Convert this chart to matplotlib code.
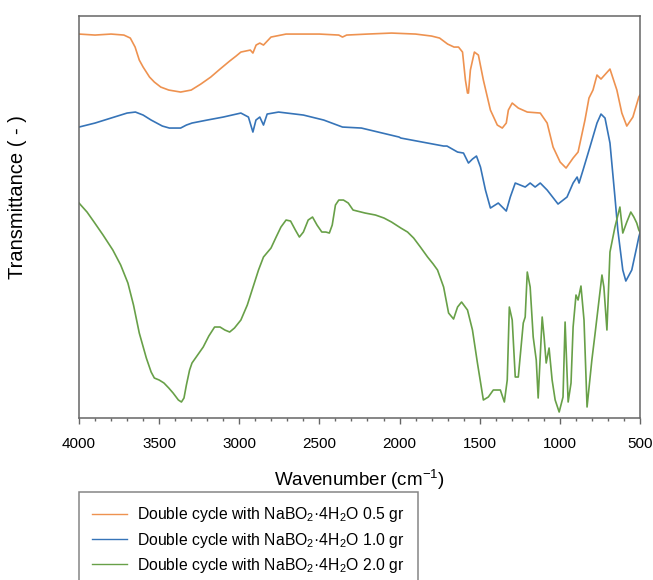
import matplotlib
matplotlib.use("Agg")
import matplotlib.pyplot as plt
from matplotlib.ticker import MultipleLocator

plt.rcParams["font.family"] = ["Liberation Sans", "DejaVu Sans"]
plt.rcParams["mathtext.fontset"] = "custom"
plt.rcParams["mathtext.rm"] = "Liberation Sans"
plt.rcParams["mathtext.it"] = "Liberation Sans:italic"
plt.rcParams["mathtext.bf"] = "Liberation Sans:bold"

# FTIR spectra (wavenumber in cm-1, transmittance a.u.)
wn_05 = [4000, 3900, 3800, 3720, 3680, 3650, 3624, 3600, 3560, 3530, 3490,
         3440, 3366, 3300, 3240, 3178, 3120, 3060, 3020, 2990, 2931, 2915,
         2895, 2872, 2849, 2802, 2708, 2500, 2379, 2356, 2330, 2200, 2050,
         1900, 1800, 1750, 1700, 1660, 1632, 1607, 1589, 1576, 1570, 1558,
         1533, 1508, 1477, 1433, 1390, 1359, 1334, 1321, 1297, 1259, 1203,
         1122, 1079, 1042, 998, 961, 917, 886, 843, 818, 793, 768, 743, 687,
         644, 613, 582, 544, 507, 500]
t_05 = [96.25, 96.0, 96.25, 96.0, 95.25, 93.0, 89.75, 88.0, 85.5, 84.25,
        83.0, 82.25, 81.75, 82.25, 83.75, 85.5, 87.5, 89.5, 90.75, 91.75,
        92.25, 91.5, 93.5, 94.0, 93.5, 95.5, 96.25, 96.25, 96.0, 95.5, 96.0,
        96.25, 96.5, 96.25, 95.75, 95.25, 93.75, 93.0, 93.0, 91.75, 84.75,
        81.5, 81.5, 87.25, 91.75, 91.0, 84.75, 77.25, 73.5, 72.75, 74.0,
        77.25, 79.0, 77.75, 76.75, 76.5, 74.0, 68.0, 64.25, 62.75, 65.25,
        66.75, 74.75, 80.25, 82.25, 86.0, 85.0, 87.5, 82.25, 76.5, 73.25,
        75.5, 80.5, 81.0]

wn_10 = [4000, 3900, 3800, 3700, 3648, 3600, 3550, 3480, 3436, 3366, 3330,
         3295, 3200, 3100, 2990, 2943, 2915, 2896, 2872, 2849, 2826, 2755,
         2600, 2473, 2356, 2238, 2003, 1992, 1725, 1704, 1638, 1601, 1570,
         1545, 1520, 1495, 1464, 1433, 1384, 1334, 1309, 1278, 1216, 1185,
         1154, 1122, 1079, 1011, 955, 917, 892, 880, 855, 812, 768, 743, 718,
         687, 656, 638, 607, 588, 551, 520, 507, 500]
t_10 = [73.0, 74.0, 75.25, 76.5, 76.75, 76.0, 74.75, 73.25, 72.75, 72.75,
        73.5, 74.0, 74.75, 75.5, 76.5, 75.5, 71.75, 74.75, 75.5, 73.5, 76.25,
        76.75, 76.0, 74.75, 73.0, 72.75, 70.5, 70.25, 68.25, 68.25, 66.75,
        66.5, 64.0, 65.0, 65.75, 63.0, 57.25, 52.75, 54.0, 52.0, 55.5, 59.0,
        58.0, 59.0, 58.0, 59.0, 57.25, 53.75, 55.5, 59.0, 60.5, 59.0, 62.25,
        68.0, 74.0, 76.25, 75.25, 69.0, 55.5, 47.25, 37.25, 34.5, 37.25,
        43.0, 45.5, 46.5]

wn_20 = [4000, 3950, 3906, 3850, 3789, 3740, 3695, 3660, 3624, 3580, 3550,
         3530, 3500, 3470, 3440, 3413, 3380, 3361, 3345, 3330, 3310, 3295,
         3260, 3225, 3190, 3154, 3120, 3090, 3060, 3030, 2990, 2950, 2920,
         2880, 2849, 2802, 2770, 2740, 2708, 2680, 2650, 2625, 2600, 2570,
         2543, 2515, 2485, 2460, 2438, 2420, 2400, 2379, 2350, 2320, 2290,
         2215, 2150, 2097, 2050, 1992, 1950, 1912, 1870, 1825, 1790, 1763,
         1725, 1694, 1663, 1638, 1613, 1576, 1545, 1514, 1477, 1446, 1415,
         1371, 1346, 1328, 1315, 1297, 1278, 1259, 1228, 1216, 1203, 1185,
         1166, 1147, 1135, 1110, 1098, 1085, 1067, 1048, 1029, 1004, 980,
         967, 948, 930, 917, 899, 886, 868, 849, 830, 800, 781, 737, 725,
         706, 687, 656, 625, 607, 582, 557, 538, 520, 507, 500]
t_20 = [54.0, 51.75, 49.25, 46.0, 42.25, 38.5, 34.0, 28.5, 21.5, 15.25,
        11.75, 10.25, 9.75, 9.0, 7.75, 6.5, 4.75, 4.25, 5.25, 8.5, 12.25,
        14.0, 16.0, 18.0, 20.75, 23.0, 23.0, 22.25, 21.75, 22.75, 24.75,
        28.5, 32.25, 37.25, 40.5, 42.75, 45.5, 48.0, 49.75, 49.5, 47.25,
        45.5, 46.75, 49.75, 50.5, 48.5, 46.75, 46.75, 46.5, 48.5, 53.5, 54.75,
        54.75, 54.0, 52.25, 51.5, 51.0, 50.25, 49.25, 47.75, 46.75, 45.25,
        43.0, 40.5, 38.75, 37.25, 33.0, 26.5, 25.0, 28.0, 29.25, 27.25, 22.25,
        14.0, 4.75, 5.5, 7.25, 7.25, 4.25, 9.75, 28.0, 24.75, 10.5, 10.5,
        24.0, 25.5, 36.75, 33.0, 20.5, 14.75, 5.25, 25.5, 20.5, 14.0, 17.75,
        9.75, 4.75, 1.75, 5.5, 24.25, 4.25, 9.0, 23.0, 31.0, 29.75, 33.25,
        24.75, 3.0, 14.75, 21.0, 36.0, 33.0, 22.25, 41.75, 48.0, 53.0, 46.5,
        49.25, 51.75, 50.5, 49.0, 47.25, 46.75]

labels = [
    r"Double cycle with NaBO$_{\mathregular{2}}$·4H$_{\mathregular{2}}$O 0.5 gr",
    r"Double cycle with NaBO$_{\mathregular{2}}$·4H$_{\mathregular{2}}$O 1.0 gr",
    r"Double cycle with NaBO$_{\mathregular{2}}$·4H$_{\mathregular{2}}$O 2.0 gr",
]
colors = ["#EE9250", "#3674B8", "#68A048"]

fig = plt.figure(figsize=(6.53, 5.8), dpi=100)
ax = fig.add_axes([0.121, 0.2793, 0.859, 0.693])

for wn, t, c, lab in zip([wn_05, wn_10, wn_20], [t_05, t_10, t_20], colors, labels):
    ax.plot(wn, t, color=c, lw=1.2, label=lab, solid_joinstyle="round")

ax.set_xlim(4000, 500)
ax.set_ylim(0.25, 100.75)
ax.xaxis.set_major_locator(MultipleLocator(500))
ax.xaxis.set_minor_locator(MultipleLocator(100))
ax.tick_params(axis="x", which="major", direction="out", length=4.5,
               width=1.0, color="#666666", labelsize=11, pad=9)
ax.tick_params(axis="x", which="minor", direction="out", length=2.5,
               width=1.0, color="#666666")
ax.set_yticks([])
for sp in ax.spines.values():
    sp.set_color("#666666")
    sp.set_linewidth(1.1)

ax.set_xlabel(r"Wavenumber (cm$^{\mathregular{-1}}$)", fontsize=13.5, va="center")
ax.xaxis.set_label_coords(0.5, -0.154)
ax.set_ylabel("Transmittance ( - )", fontsize=14.5, va="center")
ax.yaxis.set_label_coords(-0.109, 0.55)

leg = ax.legend(loc="upper left", bbox_to_anchor=(0.121, 1 - 492 / 580),
                bbox_transform=fig.transFigure, borderaxespad=0,
                fontsize=11.3, frameon=True, fancybox=False,
                edgecolor="#666666", handlelength=2.2, handletextpad=0.65,
                borderpad=0.85, labelspacing=0.4)
leg.get_frame().set_linewidth(1.1)
for h in leg.get_lines():
    h.set_linewidth(1.0)

fig.savefig("out.png", dpi=100)
